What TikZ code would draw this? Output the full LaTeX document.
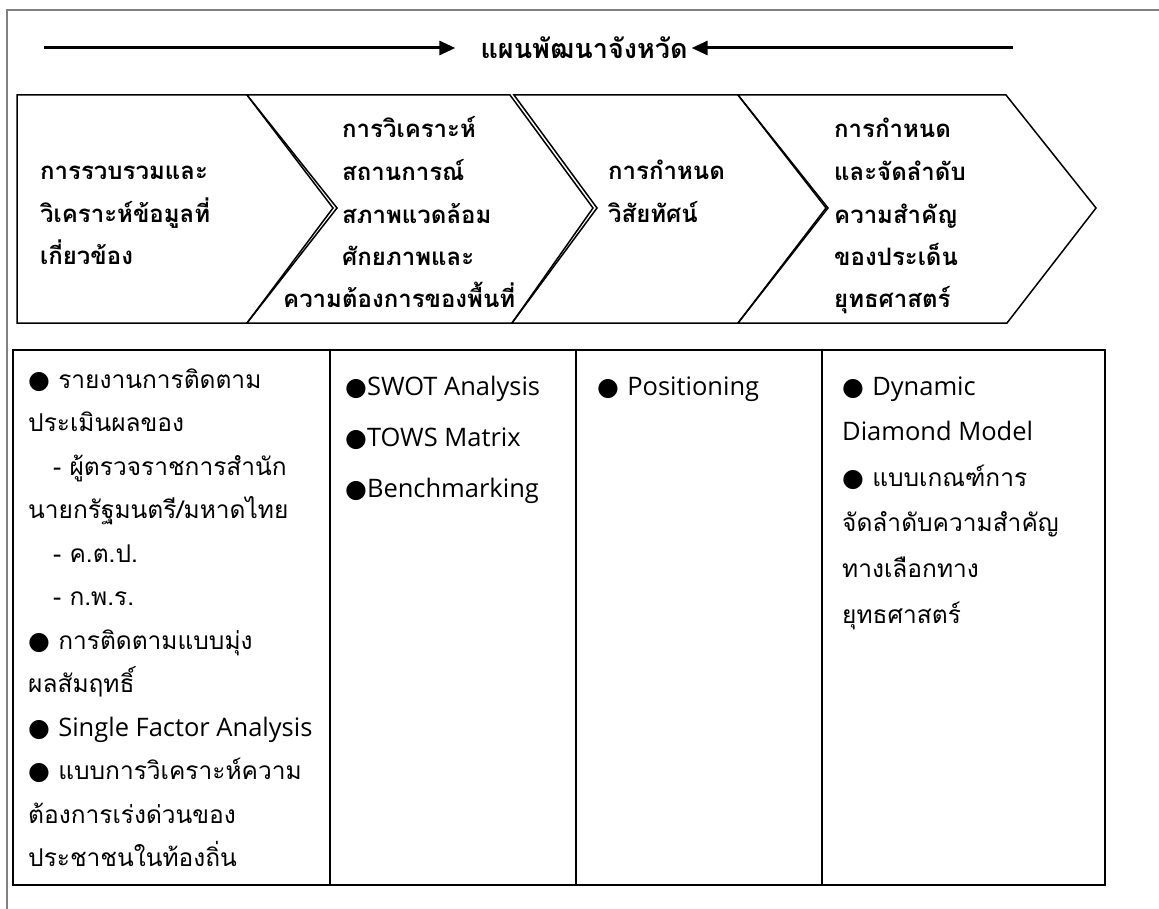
\documentclass[tikz,border=0pt]{standalone}
\usepackage{fontspec}
\setmainfont{Loma}[Script=Thai]
\newfontfamily\latfont{Open Sans}[Scale=1.04]
\newfontfamily\symfont{DejaVu Sans}
\usetikzlibrary{arrows.meta}
\newcommand\bul{{\symfont\fontsize{25}{25}\selectfont ●}}
\newcommand\cellfont[1]{\fontsize{24.5}{#1}\selectfont}
\newcommand\headfont{\fontsize{24}{42.5}\selectfont\bfseries}
\begin{document}
\begin{tikzpicture}[x=1pt,y=-1pt,
    chev/.style={draw,line width=1.5pt},
    head/.style={anchor=base west,inner sep=0pt,align=left,font=\headfont},
    cell/.style={anchor=base west,inner sep=0pt,align=left},
    bigarrow/.style={line width=3pt,-{Triangle[length=16pt,width=14pt]}}]
  \useasboundingbox (0,0) rectangle (1159,909);
  % frame
  \draw[gray,line width=1.5pt] (1159,10) -- (7,10) -- (7,909);
  % title with arrows
  \node[inner sep=0pt,font=\fontsize{27}{30}\selectfont\bfseries] (plan) at (584,48) {แผนพัฒนาจังหวัด};
  \coordinate (lstart) at (44,48);
  \coordinate (rstart) at (1013,48);
  \draw[bigarrow] (lstart) -- ([xshift=-25pt]plan.west);
  \draw[bigarrow] (rstart) -- ([xshift=4pt]plan.east);
  % chevrons (base of a node = its last line)
  \draw[chev] (17,95) -- (247,95) -- (333,208) -- (247,323) -- (17,323) -- cycle;
  \draw[chev] (247,95) -- (510,95) -- (593,208) -- (512,323) -- (247,323) -- (337,208) -- cycle;
  \draw[chev] (514,95) -- (738,95) -- (826,208) -- (738,323) -- (512,323) -- (597,208) -- cycle;
  \draw[chev] (738,95) -- (1006,95) -- (1096,208) -- (1007,323) -- (738,323) -- (828,208) -- cycle;
  \node[head] (gather) at (40,265) {การรวบรวมและ\\วิเคราะห์ข้อมูลที่\\เกี่ยวข้อง};
  \node[head] (analyse) at (342,265.5) {การวิเคราะห์\\สถานการณ์\\สภาพแวดล้อม\\ศักยภาพและ};
  \node[head] (need) at (283,308) {ความต้องการของพื้นที่};
  \node[head] (vision) at (608,222.5) {การกำหนด\\วิสัยทัศน์};
  \node[head] (rank) at (834,308) {การกำหนด\\และจัดลำดับ\\ความสำคัญ\\ของประเด็น\\ยุทธศาสตร์};
  % table
  \draw[line width=2pt] (13,350) rectangle (1105,885);
  \foreach \x in {330,576,822}
    \draw[line width=2pt] (\x,350) -- (\x,885);
  \node[cell,font=\cellfont{43.5}] (tools1) at (28,866.5)
    {\bul\ รายงานการติดตาม\\ประเมินผลของ\\\hspace*{25pt}- ผู้ตรวจราชการสำนัก\\นายกรัฐมนตรี/มหาดไทย\\\hspace*{25pt}- ค.ต.ป.\\\hspace*{25pt}- ก.พ.ร.\\\bul\ การติดตามแบบมุ่ง\\ผลสัมฤทธิ์\\\bul\ {\latfont Single Factor Analysis}\\\bul\ แบบการวิเคราะห์ความ\\ต้องการเร่งด่วนของ\\ประชาชนในท้องถิ่น};
  \node[cell,font=\cellfont{51}] (tools2) at (345,497)
    {\bul{\latfont SWOT Analysis}\\\bul{\latfont TOWS Matrix}\\\bul{\latfont Benchmarking}};
  \node[cell,font=\cellfont{46}] (tools3) at (597,395) {\bul\ {\latfont Positioning}};
  \node[cell,font=\cellfont{45.6}] (tools4) at (842,623)
    {\bul\ {\latfont Dynamic}\\{\latfont Diamond Model}\\\bul\ แบบเกณฑ์การ\\จัดลำดับความสำคัญ\\ทางเลือกทาง\\ยุทธศาสตร์};
\end{tikzpicture}
\end{document}
